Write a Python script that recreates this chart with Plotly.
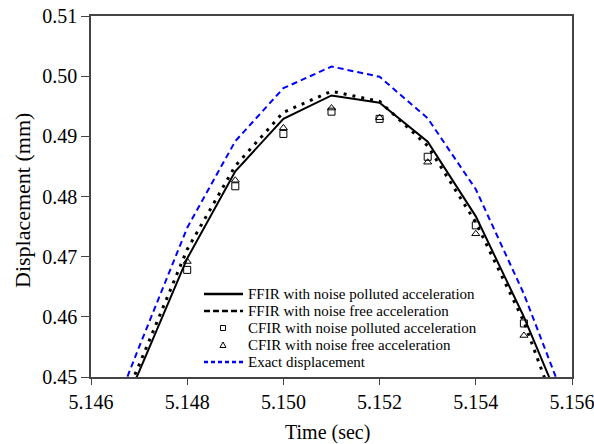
import plotly.graph_objects as go

# ---- data ----
time = [5.146, 5.147, 5.148, 5.149, 5.150, 5.151, 5.152, 5.153, 5.154, 5.155, 5.156]
ffir_polluted = [0.4330, 0.4509, 0.4697, 0.4842, 0.4929, 0.4968, 0.4956, 0.4891, 0.4767, 0.4600, 0.4409]
ffir_free = [0.4340, 0.4520, 0.4712, 0.4851, 0.4940, 0.4975, 0.4958, 0.4884, 0.4757, 0.4592, 0.4374]
exact = [0.4346, 0.4550, 0.4748, 0.4892, 0.4980, 0.5016, 0.4999, 0.4930, 0.4812, 0.4638, 0.4430]

time_cfir = [5.148, 5.149, 5.150, 5.151, 5.152, 5.153, 5.154, 5.155]
cfir_polluted = [0.4678, 0.4817, 0.4904, 0.4941, 0.4929, 0.4866, 0.4752, 0.4589]
cfir_free = [0.4692, 0.4827, 0.4914, 0.4947, 0.4931, 0.4857, 0.4738, 0.4569]

x_ticks = [5.146, 5.148, 5.150, 5.152, 5.154, 5.156]
x_tick_labels = ["5.146", "5.148", "5.150", "5.152", "5.154", "5.156"]
y_ticks = [0.45, 0.46, 0.47, 0.48, 0.49, 0.50, 0.51]
y_tick_labels = ["0.45", "0.46", "0.47", "0.48", "0.49", "0.50", "0.51"]

legend_labels = [
    "FFIR with noise polluted acceleration",
    "FFIR with noise free acceleration",
    "CFIR with noise polluted acceleration",
    "CFIR with noise free acceleration",
    "Exact displacement",
]
x_title = "Time (sec)"
y_title = "Displacement (mm)"

FONT = "Liberation Serif"

fig = go.Figure()
fig.add_trace(go.Scatter(x=time, y=exact, mode="lines",
                         line=dict(color="#0000FF", width=2, dash="6px,4px"),
                         name=legend_labels[4], showlegend=False))
fig.add_trace(go.Scatter(x=time, y=ffir_free, mode="lines",
                         line=dict(color="black", width=3, dash="3px,6px"),
                         name=legend_labels[1], showlegend=False))
fig.add_trace(go.Scatter(x=time, y=ffir_polluted, mode="lines",
                         line=dict(color="black", width=2),
                         name=legend_labels[0], showlegend=False))
fig.add_trace(go.Scatter(x=time_cfir, y=cfir_polluted, mode="markers",
                         marker=dict(symbol="square-open", size=7, color="black", line=dict(width=1, color="black")),
                         name=legend_labels[2], showlegend=False))
fig.add_trace(go.Scatter(x=time_cfir, y=cfir_free, mode="markers",
                         marker=dict(symbol="triangle-up-open", size=7, color="black", line=dict(width=1, color="black")),
                         name=legend_labels[3], showlegend=False))

# plot area in pixels
L, R, T, B = 91, 572, 16, 377
W, H = 594, 444


def px(xp):
    return (xp - L) / (R - L)


def py(yp):
    return (B - yp) / (B - T)


shapes = []
annotations = []
rows = [294, 311, 328, 345, 362]
x0s, x1s, xm, xt = 204, 243, 223, 247
shapes.append(dict(type="line", xref="paper", yref="paper", x0=px(x0s), x1=px(x1s), y0=py(rows[0]), y1=py(rows[0]),
                   line=dict(color="black", width=2.5)))
shapes.append(dict(type="line", xref="paper", yref="paper", x0=px(x0s), x1=px(x1s), y0=py(rows[1]), y1=py(rows[1]),
                   line=dict(color="black", width=2.5, dash="6px,3px")))
shapes.append(dict(type="rect", xref="paper", yref="paper", x0=px(xm - 2.5), x1=px(xm + 2.5),
                   y0=py(rows[2] + 2.5), y1=py(rows[2] - 2.5), line=dict(color="black", width=1)))
tri = "M {a},{b} L {c},{d} L {e},{f} Z".format(
    a=px(xm - 3), b=py(rows[3] + 2.5), c=px(xm + 3), d=py(rows[3] + 2.5), e=px(xm), f=py(rows[3] - 3))
shapes.append(dict(type="path", xref="paper", yref="paper", path=tri, line=dict(color="black", width=1)))
shapes.append(dict(type="line", xref="paper", yref="paper", x0=px(x0s), x1=px(x1s), y0=py(rows[4]), y1=py(rows[4]),
                   line=dict(color="#0000FF", width=2.5, dash="4px,3px")))

for lab, r in zip(legend_labels, rows):
    annotations.append(dict(text=lab, xref="paper", yref="paper", x=px(xt), y=py(r), xanchor="left",
                            yanchor="middle", showarrow=False, borderpad=0,
                            font=dict(family=FONT, size=15, color="black")))

# axis titles
annotations.append(dict(text=y_title, xref="paper", yref="paper", x=px(22), y=py(201), textangle=-90,
                        xanchor="center", yanchor="middle", showarrow=False,
                        font=dict(family=FONT, size=22, color="black")))
annotations.append(dict(text=x_title, xref="paper", yref="paper", x=px(327), y=py(432),
                        xanchor="center", yanchor="middle", showarrow=False,
                        font=dict(family=FONT, size=20, color="black")))

fig.update_layout(
    width=W, height=H,
    margin=dict(l=L, r=W - R, t=T, b=H - B),
    paper_bgcolor="white", plot_bgcolor="white",
    font=dict(family=FONT, size=20, color="black"),
    shapes=shapes, annotations=annotations,
    showlegend=False,
)
fig.update_xaxes(range=[5.146, 5.156], tickmode="array", tickvals=x_ticks, ticktext=x_tick_labels,
                 ticklabeloverflow="allow", automargin=False,
                 ticklen=6, showline=True, linecolor="#444", linewidth=1.5, mirror=True, ticks="outside",
                 tickcolor="#444", showgrid=False, zeroline=False,
                 tickfont=dict(family=FONT, size=20, color="black"))
fig.update_yaxes(range=[0.45, 0.51], tickmode="array", tickvals=y_ticks, ticktext=y_tick_labels,
                 ticklabeloverflow="allow", automargin=False,
                 ticklen=8, showline=True, linecolor="#444", linewidth=1.5, mirror=True, ticks="outside",
                 tickcolor="#444", showgrid=False, zeroline=False,
                 tickfont=dict(family=FONT, size=20, color="black"))

fig.write_html("out.html")
